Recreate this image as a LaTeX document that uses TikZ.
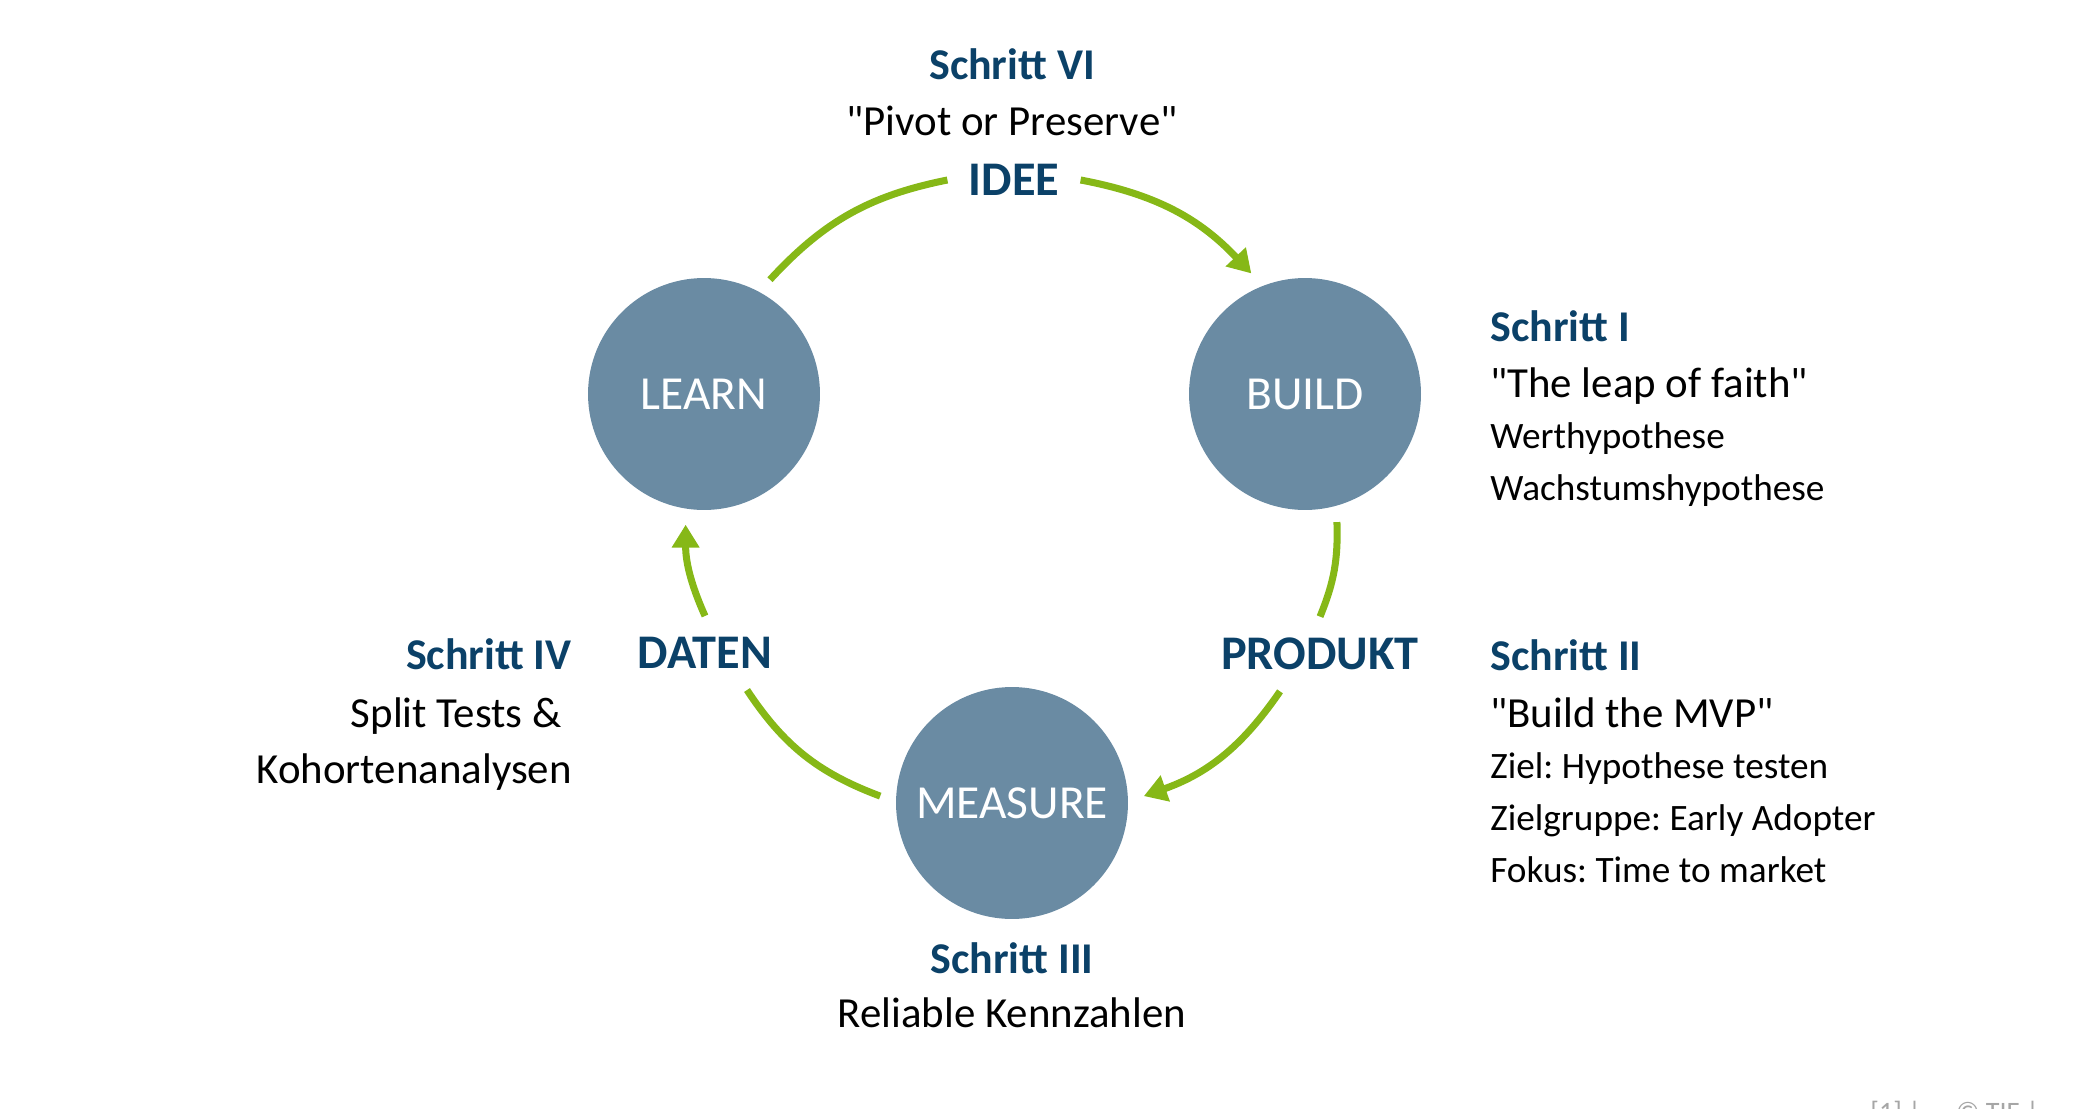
\documentclass[tikz,border=0pt]{standalone}
\usepackage{fontspec}
\setmainfont{Carlito}
\usetikzlibrary{arrows.meta}
\definecolor{stepblue}{HTML}{0B4168}
\definecolor{phasefill}{HTML}{6A8BA3}
\definecolor{cyclegreen}{HTML}{86B817}
\frenchspacing
\begin{document}
\begin{tikzpicture}[x=0.02cm,y=-0.02cm,
  phase/.style={circle,fill=phasefill,minimum size=4.64cm,inner sep=0pt,outer sep=0.32cm,
    text=white,font=\fontsize{27}{32}\selectfont},
  result/.style={inner sep=0.42cm,text=stepblue,font=\fontsize{27.5}{32}\selectfont\bfseries},
  steptitle/.style={inner sep=0pt,text=stepblue,font=\fontsize{25}{29}\selectfont\bfseries},
  motto/.style={inner sep=0pt,font=\fontsize{24.4}{28}\selectfont},
  detail/.style={inner sep=0pt,font=\fontsize{21.2}{25}\selectfont},
  cycle/.style={draw=cyclegreen,line width=4pt},
  cycletip/.style={cycle,-{Triangle[length=13pt,width=15pt]}}]
  \useasboundingbox (0,0) rectangle (2074,1108);

  \node (learn) at (704,394) [phase]{LEARN};
  \node (build) at (1305,394) [phase]{BUILD};
  \node (measure) at (1012,803) [phase]{MEASURE};

  \node (idee) at (1014,180) [result]{IDEE};
  \node (produkt) at (1320,654) [result]{PRODUKT};
  \node (daten) at (705,653) [result]{DATEN};

  % Schritt VI
  \node (s6) at (1012,80) [steptitle,anchor=base]{Schritt VI};
  \node (pivot) at (1012,136) [motto,anchor=base]{\textquotedbl Pivot or Preserve\textquotedbl};

  % Schritt I
  \node (s1) at (1490,341) [steptitle,anchor=base west]{Schritt I};
  \node (leap) at (1490,397) [motto,anchor=base west]{\textquotedbl The leap of faith\textquotedbl};
  \node (wert) at (1490,448) [detail,anchor=base west]{Werthypothese};
  \node (wachs) at (1490,500) [detail,anchor=base west]{Wachstumshypothese};

  % Schritt II
  \node (s2) at (1490,670) [steptitle,anchor=base west]{Schritt II};
  \node (mvp) at (1490,727) [motto,anchor=base west]{\textquotedbl Build the MVP\textquotedbl};
  \node (ziel) at (1490,778) [detail,anchor=base west]{Ziel: Hypothese testen};
  \node (gruppe) at (1490,830) [detail,anchor=base west]{Zielgruppe: Early Adopter};
  \node (fokus) at (1490,882) [detail,anchor=base west]{Fokus: Time to market};

  % Schritt III
  \node (s3) at (1012,973) [steptitle,anchor=base]{Schritt III};
  \node (kennz) at (1012,1027) [motto,anchor=base]{Reliable Kennzahlen};

  % Schritt IV
  \node (s4) at (572,669) [steptitle,anchor=base east]{Schritt IV};
  \node (split) at (562,727) [motto,anchor=base east]{Split Tests \&};
  \node (kohorte) at (572,783) [motto,anchor=base east]{Kohortenanalysen};

  \node (credit) at (1870,1121) [anchor=base west,inner sep=0pt,text=black!35,
    font=\fontsize{16}{19}\selectfont]{[1] |\hspace{0.7cm}© TIF |};

  \draw[cycle] (learn.60) to[bend left=18] (idee.west);
  \draw[cycletip] (idee.east) to[bend left=18] (build.114);
  \draw[cycle] (build.284) to[bend left=12] (produkt.north);
  \draw[cycletip] ([xshift=-0.8cm]produkt.south) to[bend left=18] (measure.3);
  \draw[cycle] (measure.177) to[bend left=18] ([xshift=0.84cm]daten.south);
  \draw[cycletip] (daten.north) to[bend left=12] (learn.262);

\end{tikzpicture}
\end{document}
